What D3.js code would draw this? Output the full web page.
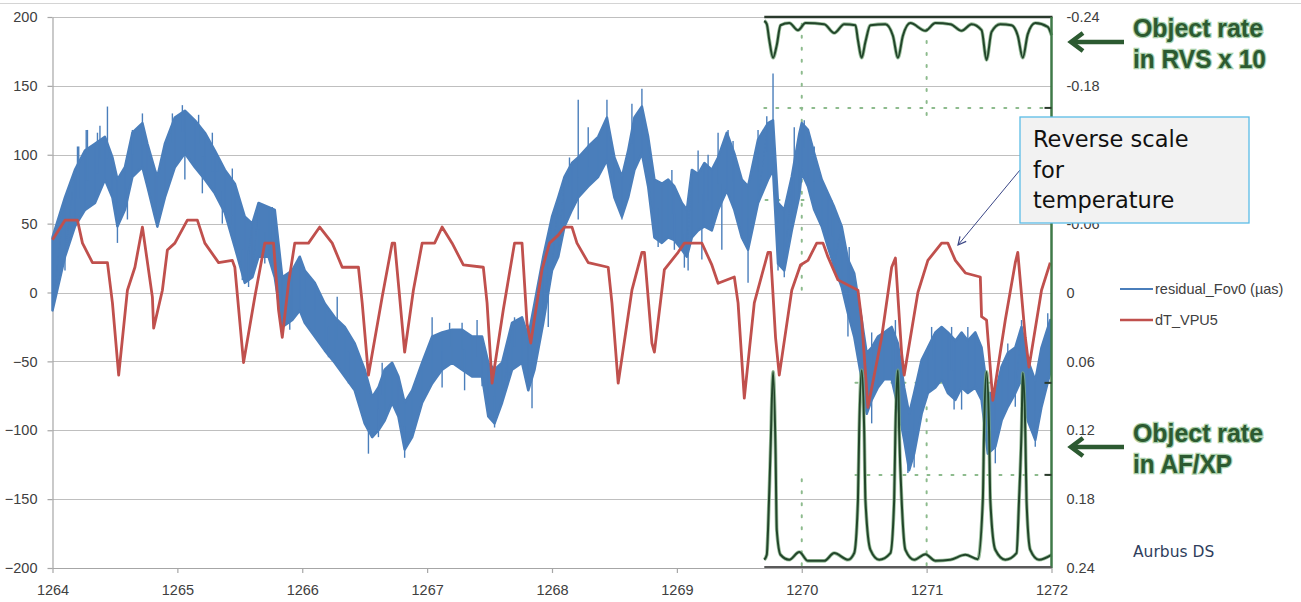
<!DOCTYPE html>
<html>
<head>
<meta charset="utf-8">
<script src="https://cdn.jsdelivr.net/npm/d3@7"></script>
<style>
  body { margin: 0; background: #fff; }
</style>
</head>
<body>
<svg id="chart" width="1301" height="602" font-family="'Liberation Sans', Arial, sans-serif"></svg>
<script>
// ---- data ----
const xTicks = [1264, 1265, 1266, 1267, 1268, 1269, 1270, 1271, 1272];
const leftTicks = [-200, -150, -100, -50, 0, 50, 100, 150, 200];
const rightTicks = [-0.24, -0.18, -0.12, -0.06, 0, 0.06, 0.12, 0.18, 0.24];

// residual_Fov0 (µas): envelope of the noisy trace
const blueT = [1264.00,1264.10,1264.18,1264.26,1264.34,1264.42,1264.48,1264.52,1264.58,1264.64,1264.72,1264.76,1264.82,1264.84,1264.90,1264.98,
  1265.06,1265.14,1265.22,1265.30,1265.38,1265.46,1265.54,1265.60,1265.65,1265.73,1265.78,1265.84,1265.92,1265.98,
  1266.02,1266.10,1266.18,1266.26,1266.34,1266.42,1266.50,1266.56,1266.61,1266.66,1266.72,1266.77,1266.82,1266.88,1266.96,
  1267.04,1267.12,1267.20,1267.28,1267.36,1267.44,1267.49,1267.54,1267.60,1267.68,1267.76,1267.81,1267.86,1267.93,
  1268.00,1268.05,1268.10,1268.16,1268.21,1268.29,1268.37,1268.44,1268.50,1268.56,1268.61,1268.66,1268.72,1268.77,1268.82,1268.88,1268.93,1268.98,
  1269.04,1269.08,1269.12,1269.17,1269.22,1269.28,1269.33,1269.40,1269.46,1269.52,1269.57,1269.65,1269.73,1269.77,1269.81,1269.86,1269.92,1269.98,
  1270.00,1270.05,1270.10,1270.16,1270.21,1270.26,1270.32,1270.37,1270.42,1270.48,1270.52,1270.56,1270.61,1270.66,1270.72,1270.77,1270.82,1270.86,1270.90,1270.96,
  1271.01,1271.07,1271.12,1271.17,1271.23,1271.28,1271.33,1271.39,1271.44,1271.49,1271.55,1271.60,1271.65,1271.71,1271.76,1271.81,1271.87,1271.92,1271.99];
const blueHi = [40,69,89,103,108,113,98,82,91,116,123,108,89,84,108,127,
  132,125,116,103,89,79,55,50,65,62,60,11,16,26,
  16,7,-8,-18,-25,-37,-56,-76,-69,-56,-51,-61,-80,-71,-51,
  -32,-29,-27,-27,-32,-32,-51,-56,-51,-22,-18,-32,-8,26,
  55,69,84,94,98,106,113,127,98,84,103,127,135,113,82,79,82,77,
  65,60,89,86,94,89,98,116,101,82,77,111,123,125,65,60,84,115,
  123,118,101,82,72,62,48,24,14,-20,-44,-40,-32,-29,-25,-37,-69,-88,-73,-49,
  -40,-29,-25,-29,-35,-29,-35,-29,-40,-73,-73,-54,-44,-40,-25,-49,-64,-40,-20];
const blueLo = [-13,26,48,60,65,82,69,48,60,84,91,77,55,48,69,91,
  101,91,82,72,58,33,7,11,26,26,11,-25,-20,-13,
  -22,-32,-42,-51,-61,-71,-95,-105,-100,-93,-80,-90,-114,-105,-80,
  -66,-56,-51,-56,-61,-61,-90,-95,-80,-56,-51,-71,-56,-22,
  16,26,48,60,69,77,84,96,69,55,69,89,101,77,40,36,40,38,
  31,26,40,45,48,45,60,74,60,40,31,65,82,89,21,16,45,70,
  87,77,60,48,33,19,4,-15,-32,-63,-88,-78,-69,-63,-63,-83,-107,-129,-117,-88,
  -73,-69,-63,-73,-78,-69,-73,-69,-78,-117,-112,-93,-83,-73,-63,-93,-107,-83,-58];
// isolated hairline spikes of the same trace: [time, value]
const blueSpikes = [[1264.20,106],[1264.28,118],[1264.36,116],[1264.44,135],[1264.64,118],[1264.72,130],[1264.96,130],
  [1265.04,136],[1265.28,116],[1265.65,65],[1265.76,62],[1264.52,36],[1264.84,47],[1265.44,49],[1265.57,4],[1265.90,-27],
  [1266.28,-3],[1267.04,-18],[1267.18,-22],[1266.53,-117],[1266.82,-120],[1267.54,-98],[1267.84,-84],
  [1268.21,140],[1268.44,140],[1268.72,148],[1269.17,103],[1269.33,116],[1269.41,118],[1269.77,159],[1269.94,120],
  [1268.21,53],[1268.56,53],[1269.06,18],[1269.57,7],[1269.86,11],[1270.02,125],[1271.20,-25],[1270.85,-131],
  [1271.28,-85],[1271.55,-124],
  [1264.21,106],[1264.27,118],[1264.38,121],[1265.17,129],[1265.22,111],[1265.32,100],[1265.44,90],
  [1268.14,98],[1268.29,120],[1268.64,137],[1268.96,89],[1269.25,100],[1269.45,110],[1269.65,118],[1269.72,128],
  [1266.02,16],[1266.10,7],[1266.64,-51],[1267.28,-22],[1267.40,-20],[1267.70,-18],
  [1270.10,106],[1270.24,67],[1270.38,33],[1270.56,-29],[1270.75,-20],[1271.04,-25],[1271.33,-25],[1271.65,-37],[1271.76,-20],[1271.97,-15],
  [1267.97,-25],[1268.85,33],[1268.98,31],[1269.09,16],[1269.20,24],[1269.36,31],[1269.81,16],
  [1266.21,-47],[1266.37,-66],[1266.61,-105],[1267.12,-69],[1267.30,-71],[1267.44,-68],[1267.65,-66],
  [1270.37,-32],[1270.56,-95],[1270.90,-127],[1271.22,-85],[1271.71,-83],[1271.87,-112],
  [1264.10,16],[1264.60,53],[1265.06,82],[1265.20,72],[1265.36,50],[1265.52,9],[1265.70,21],[1265.86,-22]];

// dT_VPU5 (right axis, reversed)
const redT = [1264.00,1264.10,1264.20,1264.24,1264.32,1264.44,1264.48,1264.53,1264.60,1264.66,1264.72,1264.80,1264.81,1264.88,1264.92,1264.98,
  1265.08,1265.16,1265.22,1265.33,1265.44,1265.46,1265.53,1265.62,1265.70,1265.77,1265.81,1265.84,1265.89,1265.94,
  1266.05,1266.14,1266.24,1266.32,1266.45,1266.48,1266.53,1266.64,1266.72,1266.74,1266.78,1266.82,1266.89,1266.96,
  1267.06,1267.12,1267.20,1267.29,1267.45,1267.48,1267.52,1267.61,1267.70,1267.76,1267.80,1267.83,1267.92,1267.98,
  1268.05,1268.10,1268.16,1268.20,1268.29,1268.45,1268.48,1268.53,1268.64,1268.72,1268.74,1268.80,1268.82,1268.90,
  1269.01,1269.06,1269.20,1269.28,1269.33,1269.46,1269.49,1269.54,1269.62,1269.73,1269.75,1269.79,1269.82,1269.92,1269.99,
  1270.05,1270.12,1270.17,1270.21,1270.29,1270.45,1270.48,1270.53,1270.64,1270.72,1270.75,1270.80,1270.82,1270.93,
  1271.01,1271.12,1271.17,1271.23,1271.31,1271.43,1271.44,1271.48,1271.53,1271.63,1271.71,1271.73,1271.79,1271.82,1271.92,1271.99];
const redV = [-0.046,-0.063,-0.063,-0.043,-0.026,-0.026,0.009,0.072,-0.002,-0.022,-0.057,0.004,0.031,-0.002,-0.037,-0.043,
  -0.063,-0.063,-0.043,-0.026,-0.028,-0.022,0.061,0.004,-0.043,-0.043,0.015,0.039,-0.008,-0.043,
  -0.043,-0.057,-0.043,-0.022,-0.022,0.009,0.072,0.004,-0.043,-0.043,0.004,0.052,-0.002,-0.043,
  -0.043,-0.057,-0.043,-0.024,-0.022,0.009,0.079,0.015,-0.043,-0.043,0.027,0.044,-0.020,-0.043,
  -0.050,-0.057,-0.057,-0.043,-0.026,-0.022,0.009,0.079,-0.002,-0.035,-0.035,0.044,0.052,-0.020,
  -0.035,-0.043,-0.043,-0.024,-0.008,-0.0135,0.009,0.092,0.009,-0.035,-0.035,0.039,0.072,-0.002,-0.024,
  -0.028,-0.043,-0.043,-0.031,-0.011,-0.002,0.024,0.100,0.039,-0.022,-0.030,0.053,0.072,0.000,
  -0.028,-0.043,-0.043,-0.028,-0.017,-0.0135,0.021,0.024,0.094,0.024,-0.026,-0.035,0.039,0.065,-0.002,-0.026];

// inset: object rates (normalised inset units, 0 = bottom, 100 = top of inset)
const rvsT = [1269.70,1269.72,1269.74,1269.77,1269.80,1269.83,1269.90,1269.97,1270.03,1270.18,1270.26,1270.34,1270.43,1270.45,1270.48,1270.51,1270.55,
  1270.67,1270.73,1270.77,1270.81,1270.87,1270.99,1271.07,1271.19,1271.28,1271.36,1271.44,1271.48,1271.52,1271.59,1271.68,1271.73,1271.77,1271.81,1271.87,1271.97,1272.00];
const rvsV = [99.3,98.7,95.8,92.6,94.9,98.5,98.9,97.6,98.9,98.7,97.1,98.7,98.5,95.8,92.6,95.5,98.5,
  98.7,96.6,92.6,96.6,98.9,97.5,98.9,98.7,97.5,98.7,97.6,92.2,97.3,98.7,98.5,96.6,92.6,96.9,98.9,98.2,96.7];
const afxpT = [1269.70,1269.72,1269.73,1269.75,1269.77,1269.79,1269.80,1269.83,1269.90,1269.98,1270.05,1270.18,1270.26,1270.37,
  1270.42,1270.45,1270.46,1270.48,1270.50,1270.51,1270.55,1270.62,1270.71,1270.74,1270.75,1270.77,1270.78,1270.80,1270.83,
  1270.90,1270.99,1271.07,1271.19,1271.31,1271.41,1271.45,1271.46,1271.48,1271.50,1271.51,1271.55,1271.63,
  1271.72,1271.74,1271.76,1271.77,1271.79,1271.80,1271.83,1271.90,1272.00];
const afxpV = [1.5,2.4,6.9,21.4,35.6,21.4,6.9,2.4,1.5,2.9,1.3,1.3,2.7,1.5,
  2.7,12.3,25.0,35.9,25.0,12.3,3.3,1.5,2.7,12.3,25.0,35.9,25.0,12.3,3.3,
  1.5,2.5,1.3,1.5,2.4,1.6,12.3,25.0,35.6,25.0,12.3,3.3,1.5,
  2.7,12.3,25.0,35.4,25.0,12.3,3.3,1.5,2.4];
// inset dotted grid: [x0, x1, level] horizontals, [t, from, to] verticals
const insetHGrid = [[1269.70, 1272, 83.5], [1269.71, 1270.22, 66.8], [1270.43, 1272, 33.6], [1270.43, 1272, 16.9]];
const insetVGrid = [[1270, 50.5, 99.0], [1271, 82.2, 99.0], [1270, 0.5, 16.9], [1271, 0.5, 33.6]];

const seriesNames = ["residual_Fov0 (µas)", "dT_VPU5"];
const colors = { blue: "#4a7ebb", red: "#c0504d", grid: "#bfbfbf", axis: "#a6a6a6", text: "#404040",
  green: "#22452a", greenLight: "#7aaa7c", greenDot: "#8dbb8d", greenText: "#2c5a31" };

// ---- scales ----
const svg = d3.select("#chart");
const x = d3.scaleLinear().domain([1264, 1272]).range([52.5, 1051.5]);
const yL = d3.scaleLinear().domain([-200, 200]).range([568, 17]);
const yR = d3.scaleLinear().domain([-0.24, 0.24]).range([17, 568]);
const yIn = d3.scaleLinear().domain([0, 100]).range([568, 17]);

// frame line at the top of the slide
svg.append("line").attr("x1", 0).attr("x2", 1301).attr("y1", 3.5).attr("y2", 3.5)
  .attr("stroke", "#d4d4d4").attr("stroke-width", 1);

// gridlines
svg.append("g").selectAll("line").data(leftTicks).join("line")
  .attr("x1", x(1264)).attr("x2", x(1272))
  .attr("y1", d => Math.round(yL(d)) + 0.5).attr("y2", d => Math.round(yL(d)) + 0.5)
  .attr("stroke", colors.grid).attr("stroke-width", 1.2);

// axes
const axL = svg.append("g").attr("transform", `translate(${x(1264)},0)`)
  .call(d3.axisLeft(yL).tickValues(leftTicks).tickSize(5).tickSizeOuter(0).tickPadding(10));
const axB = svg.append("g").attr("transform", `translate(0,${yL(-200)})`)
  .call(d3.axisBottom(x).tickValues(xTicks).tickFormat(d3.format("d")).tickSize(5).tickSizeOuter(0).tickPadding(12));
const axR = svg.append("g").attr("transform", `translate(${x(1272)},0)`)
  .call(d3.axisRight(yR).tickValues(rightTicks).tickSize(0).tickPadding(15)
    .tickFormat(d => d === 0 ? "0" : d.toFixed(2)));
axR.select(".domain").remove();
// the -0.12 label sits fully under the callout box in the reference
axR.selectAll(".tick").filter(d => d === -0.12).remove();
[axL, axB, axR].forEach(a => {
  a.selectAll(".domain, .tick line").attr("stroke", colors.axis).attr("stroke-width", 1.2);
  a.selectAll("text").attr("fill", colors.text).attr("font-size", 14.5)
    .attr("font-family", "'Liberation Sans', Arial, sans-serif");
});

// inset dotted grid
const inset = svg.append("g");
inset.selectAll("line.h").data(insetHGrid).join("line").attr("class", "h")
  .attr("x1", d => x(d[0])).attr("x2", d => x(d[1])).attr("y1", d => yIn(d[2])).attr("y2", d => yIn(d[2]))
  .attr("stroke", colors.greenDot).attr("stroke-width", 2).attr("stroke-dasharray", "2,10").attr("stroke-linecap", "round");
inset.selectAll("line.v").data(insetVGrid).join("line").attr("class", "v")
  .attr("x1", d => x(d[0])).attr("x2", d => x(d[0])).attr("y1", d => yIn(d[1])).attr("y2", d => yIn(d[2]))
  .attr("stroke", colors.greenDot).attr("stroke-width", 2).attr("stroke-dasharray", "2,10").attr("stroke-linecap", "round");

// residual trace
const blue = blueT.map((t, i) => ({ t, hi: blueHi[i], lo: blueLo[i] }));
svg.append("path").datum(blue)
  .attr("d", d3.area().x(d => x(d.t)).y0(d => yL(d.lo)).y1(d => yL(d.hi)))
  .attr("fill", colors.blue).attr("stroke", colors.blue).attr("stroke-width", 2.5).attr("stroke-linejoin", "round");
svg.append("path").datum(blue.flatMap(d => [[d.t, d.hi], [d.t, d.lo]]))
  .attr("d", d3.line().x(d => x(d[0])).y(d => yL(d[1])))
  .attr("fill", "none").attr("stroke", colors.blue).attr("stroke-width", 1);
const bis = d3.bisector(d => d.t).center;
svg.append("g").selectAll("line").data(blueSpikes).join("line")
  .attr("x1", d => x(d[0])).attr("x2", d => x(d[0]))
  .attr("y1", d => { const b = blue[bis(blue, d[0])]; return yL((b.hi + b.lo) / 2); })
  .attr("y2", d => yL(d[1]))
  .attr("stroke", colors.blue).attr("stroke-width", 1.4);

// temperature trace
svg.append("path").datum(redT.map((t, i) => [t, redV[i]]))
  .attr("d", d3.line().x(d => x(d[0])).y(d => yR(d[1])))
  .attr("fill", "none").attr("stroke", colors.red).attr("stroke-width", 2.8).attr("stroke-linejoin", "round");

// inset curves
function greenCurve(ts, vs) {
  const line = d3.line().x(d => x(d[0])).y(d => yIn(d[1])).curve(d3.curveMonotoneX);
  const pts = ts.map((t, i) => [t, vs[i]]);
  svg.append("path").datum(pts).attr("d", line).attr("fill", "none")
    .attr("stroke", colors.greenLight).attr("stroke-width", 3.6).attr("stroke-opacity", 0.75).attr("stroke-linejoin", "round");
  svg.append("path").datum(pts).attr("d", line).attr("fill", "none")
    .attr("stroke", colors.green).attr("stroke-width", 2).attr("stroke-linejoin", "round");
}
greenCurve(rvsT, rvsV);
greenCurve(afxpT, afxpV);

// inset frame
svg.append("line").attr("x1", x(1269.7)).attr("x2", x(1272) + 1).attr("y1", yIn(100)).attr("y2", yIn(100))
  .attr("stroke", "#2a3a2c").attr("stroke-width", 2.5);
svg.append("line").attr("x1", x(1272)).attr("x2", x(1272)).attr("y1", yIn(100)).attr("y2", yIn(0))
  .attr("stroke", "#3f7a48").attr("stroke-width", 2.5);
svg.append("line").attr("x1", x(1269.7)).attr("x2", x(1272)).attr("y1", yIn(0) - 1).attr("y2", yIn(0) - 1)
  .attr("stroke", "#5a5a5a").attr("stroke-width", 2);
svg.append("g").selectAll("line").data([83.5, 33.6, 16.9]).join("line")
  .attr("x1", x(1272) - 7).attr("x2", x(1272)).attr("y1", d => yIn(d)).attr("y2", d => yIn(d))
  .attr("stroke", "#2a3a2c").attr("stroke-width", 2);

// legend
const leg = svg.append("g").attr("transform", "translate(1120,0)");
[[seriesNames[0], colors.blue, 289], [seriesNames[1], colors.red, 320]].forEach(([name, c, yy]) => {
  leg.append("line").attr("x1", 0).attr("x2", 33).attr("y1", yy).attr("y2", yy)
    .attr("stroke", c).attr("stroke-width", c === colors.red ? 2.6 : 2);
  leg.append("text").attr("x", 35).attr("y", yy).attr("dy", "0.35em").attr("font-size", 14.5)
    .attr("fill", colors.text).text(name);
});

// right-hand labels with arrows
svg.append("defs").append("marker").attr("id", "tip").attr("viewBox", "0 0 10 10")
  .attr("refX", 9).attr("refY", 5).attr("markerWidth", 10).attr("markerHeight", 10).attr("orient", "auto")
  .append("path").attr("d", "M1,1 L9,5 L1,9").attr("fill", "none").attr("stroke", "#3a4686").attr("stroke-width", 1.2);

[[42, ["Object rate", "in RVS x 10"], [130, 133]], [447, ["Object rate", "in AF/XP"], [130, 99]]].forEach(([ay, lines, widths]) => {
  const ga = svg.append("g");
  ga.append("line").attr("x1", 1073).attr("x2", 1124).attr("y1", ay).attr("y2", ay)
    .attr("stroke", colors.greenText).attr("stroke-width", 4.5);
  ga.append("path").attr("d", `M1083,${ay - 9} L1071,${ay} L1083,${ay + 9}`)
    .attr("fill", "none").attr("stroke", colors.greenText).attr("stroke-width", 4.5).attr("stroke-linejoin", "miter");
  lines.forEach((l, i) => {
    ga.append("text").attr("x", 1133).attr("y", ay - 5 + i * 31)
      .attr("font-size", 26).attr("font-weight", "bold")
      .attr("font-family", "'Liberation Sans Narrow', 'Liberation Sans', Arial, sans-serif")
      .attr("textLength", widths[i]).attr("lengthAdjust", "spacingAndGlyphs")
      .attr("fill", colors.greenText).attr("stroke", "#a9cfa9").attr("stroke-width", 2.5)
      .attr("paint-order", "stroke").text(l);
  });
});

svg.append("text").attr("x", 1133).attr("y", 557).attr("font-size", 15.5)
  .attr("font-family", "'DejaVu Sans', Verdana, sans-serif").attr("fill", "#2f3e5c").text("Aurbus DS");

// annotation callout
svg.append("line").attr("x1", 1020).attr("y1", 170).attr("x2", 958).attr("y2", 245)
  .attr("stroke", "#3a4686").attr("stroke-width", 1).attr("marker-end", "url(#tip)");
svg.append("rect").attr("x", 1020).attr("y", 117).attr("width", 229).attr("height", 106)
  .attr("fill", "#f2f2f2").attr("stroke", "#5bbce6").attr("stroke-width", 1.3);
["Reverse scale", "for", "temperature"].forEach((l, i) => {
  svg.append("text").attr("x", 1033).attr("y", 147 + i * 30.5).attr("font-size", 22.5)
    .attr("font-family", "'DejaVu Sans', Verdana, sans-serif").attr("fill", "#111").text(l);
});
</script>
</body>
</html>
